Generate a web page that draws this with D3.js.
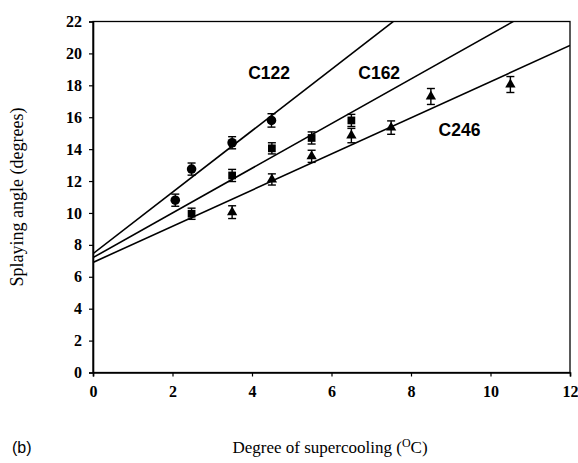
<!DOCTYPE html>
<html>
<head>
<meta charset="utf-8">
<script src="https://cdn.jsdelivr.net/npm/d3@7"></script>
<style>
  body { margin: 0; background: #fff; }
</style>
</head>
<body>
<div id="chart"></div>
<script>
// --- data ---
const seriesNames = ["C122", "C162", "C246"];
const c122X = [2.07, 2.48, 3.5, 4.49];
const c122Y = [10.8, 12.75, 14.4, 15.8];
const c122Err = [0.38, 0.38, 0.38, 0.42];
const c162X = [2.48, 3.5, 4.5, 5.5, 6.5];
const c162Y = [9.95, 12.35, 14.05, 14.7, 15.8];
const c162Err = [0.35, 0.38, 0.35, 0.38, 0.38];
const c246X = [3.5, 4.5, 5.5, 6.5, 7.5, 8.5, 10.5];
const c246Y = [10.05, 12.1, 13.55, 14.85, 15.35, 17.3, 18.05];
const c246Err = [0.4, 0.35, 0.38, 0.45, 0.42, 0.5, 0.5];
// fitted lines: intercept, slope
const lineIntercepts = [7.45, 7.2, 6.9];
const lineSlopes = [1.926, 1.40, 1.133];
const xTicks = [0, 2, 4, 6, 8, 10, 12];
const yTicks = [0, 2, 4, 6, 8, 10, 12, 14, 16, 18, 20, 22];

const width = 578, height = 463;
const margin = { top: 21.5, right: 8, bottom: 90.5, left: 93 };

const svg = d3.select("#chart").append("svg")
    .attr("width", width)
    .attr("height", height);

const x = d3.scaleLinear().domain([0, 12]).range([margin.left, width - margin.right]);
const y = d3.scaleLinear().domain([0, 22]).range([height - margin.bottom, margin.top]);

// frame
svg.append("rect")
    .attr("x", x(0)).attr("y", y(22))
    .attr("width", x(12) - x(0)).attr("height", y(0) - y(22))
    .attr("fill", "none").attr("stroke", "#000").attr("stroke-width", 1.3);

// axes
const xAxis = svg.append("g")
    .attr("transform", `translate(0, ${y(0)})`)
    .call(d3.axisBottom(x).tickValues(xTicks).tickSize(4).tickPadding(9));

const yAxis = svg.append("g")
    .attr("transform", `translate(${x(0)}, 0)`)
    .call(d3.axisLeft(y).tickValues(yTicks).tickSize(4).tickPadding(7));

[xAxis, yAxis].forEach(ax => {
    ax.attr("font-family", "Liberation Serif").attr("font-size", 16).attr("font-weight", "bold");
    ax.select(".domain").attr("stroke-width", 1.6);
    ax.selectAll(".tick line").attr("stroke-width", 1.2);
    ax.selectAll(".tick text").attr("fill", "#000");
});

// clip for fit lines
svg.append("clipPath").attr("id", "plot-clip")
    .append("rect")
    .attr("x", x(0)).attr("y", y(22))
    .attr("width", x(12) - x(0)).attr("height", y(0) - y(22));

const lines = svg.append("g").attr("clip-path", "url(#plot-clip)");
seriesNames.forEach((name, i) => {
    lines.append("line")
        .attr("x1", x(0)).attr("y1", y(lineIntercepts[i]))
        .attr("x2", x(12)).attr("y2", y(lineIntercepts[i] + lineSlopes[i] * 12))
        .attr("stroke", "#000").attr("stroke-width", 1.6);
});

// points with error bars
const series = [
    { xs: c122X, ys: c122Y, err: c122Err, shape: d3.symbolCircle, size: 72 },
    { xs: c162X, ys: c162Y, err: c162Err, shape: d3.symbolSquare, size: 60 },
    { xs: c246X, ys: c246Y, err: c246Err, shape: d3.symbolTriangle, size: 46 }
];

series.forEach(s => {
    const pts = s.xs.map((v, i) => ({ x: v, y: s.ys[i], e: s.err[i] }));
    const g = svg.append("g");
    const eb = g.selectAll(".eb").data(pts).enter().append("g");
    eb.append("line")
        .attr("x1", d => x(d.x)).attr("x2", d => x(d.x))
        .attr("y1", d => y(d.y + d.e)).attr("y2", d => y(d.y - d.e))
        .attr("stroke", "#000").attr("stroke-width", 1.4);
    [1, -1].forEach(sg => {
        eb.append("line")
            .attr("x1", d => x(d.x) - 4).attr("x2", d => x(d.x) + 4)
            .attr("y1", d => y(d.y + sg * d.e)).attr("y2", d => y(d.y + sg * d.e))
            .attr("stroke", "#000").attr("stroke-width", 1.4);
    });
    g.selectAll(".pt").data(pts).enter().append("path")
        .attr("transform", d => `translate(${x(d.x)},${y(d.y)})`)
        .attr("d", d3.symbol().type(s.shape).size(s.size))
        .attr("fill", "#000");
});

// series labels (centre x, baseline y in data units)
const labelPos = [[4.43, 18.4], [7.2, 18.4], [9.22, 14.8]];
seriesNames.forEach((name, i) => {
    svg.append("text")
        .attr("x", x(labelPos[i][0])).attr("y", y(labelPos[i][1]))
        .attr("text-anchor", "middle")
        .attr("font-family", "Liberation Sans")
        .attr("font-weight", "bold")
        .attr("font-size", 17.5)
        .text(name);
});

// axis labels
const xl = svg.append("text")
    .attr("x", 330).attr("y", 453)
    .attr("text-anchor", "middle")
    .attr("font-family", "Liberation Serif")
    .attr("font-size", 17);
xl.append("tspan").text("Degree of supercooling (");
xl.append("tspan").attr("dy", -6).attr("font-size", 12).text("O");
xl.append("tspan").attr("dy", 6).text("C)");

svg.append("text")
    .attr("transform", "rotate(-90)")
    .attr("x", -(y(11)))
    .attr("y", 23)
    .attr("text-anchor", "middle")
    .attr("font-family", "Liberation Serif")
    .attr("font-size", 18)
    .text("Splaying angle (degrees)");

svg.append("text")
    .attr("x", 12).attr("y", 453)
    .attr("font-family", "Liberation Sans")
    .attr("font-size", 16)
    .text("(b)");
</script>
</body>
</html>
